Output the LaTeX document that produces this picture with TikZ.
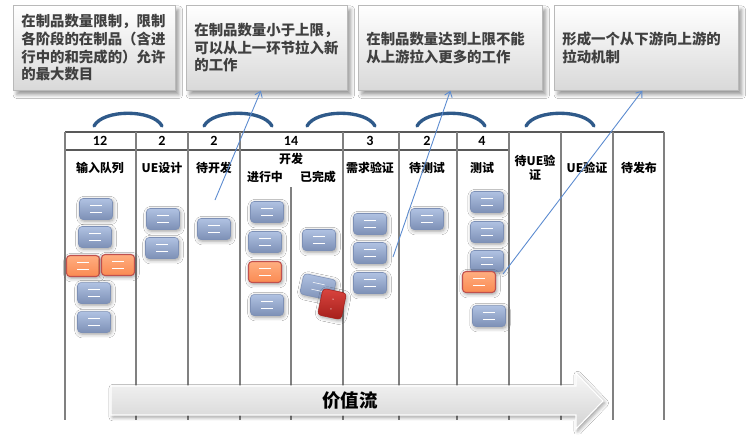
\documentclass[tikz,border=0pt]{standalone}
\usepackage{fontspec}
\setmainfont{Noto Sans CJK SC}
\newfontfamily\numfont{Carlito}
\usetikzlibrary{arrows.meta, positioning, shadows.blur, calc}
\definecolor{cardtop}{HTML}{B0C2E2}
\definecolor{cardbot}{HTML}{7D90B6}
\definecolor{hottop}{HTML}{FFAE80}
\definecolor{hotbot}{HTML}{FA8A52}
\definecolor{hotline}{HTML}{C0504D}
\definecolor{blocktop}{HTML}{D9453F}
\definecolor{blockbot}{HTML}{A51E1A}
\definecolor{arcblue}{HTML}{2F5A8A}
\definecolor{pullblue}{HTML}{5B8BD0}
\definecolor{gridline}{HTML}{808080}
\definecolor{headline}{HTML}{595959}
\definecolor{notetext}{HTML}{404040}
\tikzset{
  cardbase/.style={
    rectangle, rounded corners=2pt, inner sep=0pt,
    minimum width=0.66cm, minimum height=0.42cm,
    line width=0.3pt,
    blur shadow={shadow xshift=0.6pt, shadow yshift=-0.9pt, shadow blur steps=4}
  },
  card/.style={
    cardbase, top color=#1top, bottom color=#1bot, draw=#1bot,
    path picture={
      \draw[white, line width=0.3pt]
        ([shift={(-0.12cm,0.07cm)}]path picture bounding box.center) -- ++(0.24cm,0)
        ([shift={(-0.12cm,-0.07cm)}]path picture bounding box.center) -- ++(0.24cm,0);
    }
  },
  card/.default=card,
  hotcard/.style={card=hot, draw=hotline, line width=0.6pt},
  blockcard/.style={
    cardbase, minimum width=0.48cm, minimum height=0.54cm,
    top color=blocktop, bottom color=blockbot, draw=blockbot,
    path picture={
      \fill[white] ([yshift=0.1cm]path picture bounding box.center) circle (0.35pt)
                   ([yshift=-0.1cm]path picture bounding box.center) circle (0.35pt);
    }
  },
  notebox/.style={
    rectangle, anchor=north west, minimum height=1.7cm,
    inner xsep=0.16cm, align=left,
    top color=white, bottom color=gray!30, draw=gray!55, line width=0.4pt,
    font=\fontsize{8.2}{10}\selectfont\bfseries, text=notetext,
    blur shadow={shadow xshift=2pt, shadow yshift=-2.5pt}
  },
  wiplabel/.style={font=\numfont\fontsize{8}{9}\selectfont\bfseries, inner sep=0pt},
  colname/.style={font=\fontsize{6.8}{8.2}\selectfont\bfseries, align=center, inner sep=0pt},
  pullarc/.style={arcblue, line width=1.9pt, line cap=round},
  pullline/.style={pullblue, line width=0.5pt, -{Straight Barb[length=3pt, width=4.5pt]}},
  flowarrow/.style={
    top color=gray!6, bottom color=gray!35, draw=white, line width=0.6pt,
    blur shadow={shadow xshift=1pt, shadow yshift=-1.2pt}
  },
}

\begin{document}
\begin{tikzpicture}[x=0.02cm, y=-0.02cm]
  \fill[white] (0,0) rectangle (750,434);
  \useasboundingbox (0,0) rectangle (750,434);

  % notes on top
  \node[notebox, text width=2.92cm] (note1) at (13,5)
    {在制品数量限制，限制\\各阶段的在制品（含进\\行中的和完成的）允许\\的最大数目};
  \node[notebox, text width=2.9cm] (note2) at (186,5)
    {在制品数量小于上限，\\可以从上一环节拉入新\\的工作};
  \node[notebox, text width=3.36cm] (note3) at (358,5)
    {在制品数量达到上限不能\\从上游拉入更多的工作};
  \node[notebox, text width=3.36cm] (note4) at (554,5)
    {形成一个从下游向上游的\\拉动机制};

  % board grid
  \draw[headline, line width=0.7pt] (65,132) -- (664,132);
  \draw[headline, line width=0.7pt] (65,150) -- (509,150);
  \foreach \x in {65,136,188,240,343,399,457,509,561,613,664}
    \draw[gridline, line width=0.8pt] (\x,132) -- (\x,420);
  \draw[gridline, line width=0.8pt] (291,187) -- (291,420);

  % wip limits
  \foreach \x/\n in {100/12, 162/2, 214/2, 291/14, 370/3, 427/2, 482/4}
    \node[wiplabel] (wip\x) at (\x,141) {\n};

  % column names
  \node[colname] (queue)    at (100,168) {输入队列};
  \node[colname] (uedesign) at (162,168) {UE设计};
  \node[colname] (readydev) at (214,168) {待开发};
  \node[colname] (dev)      at (291,159) {开发};
  \node[colname] (doing)    at (265,177) {进行中};
  \node[colname] (done)     at (318,177) {已完成};
  \node[colname] (reqcheck) at (370,168) {需求验证};
  \node[colname] (readytst) at (427,168) {待测试};
  \node[colname] (testing)  at (482,168) {测试};
  \node[colname] (readyue)  at (535,168) {待UE验\\证};
  \node[colname] (uecheck)  at (587,168) {UE验证};
  \node[colname] (release)  at (639,168) {待发布};

  % cards
  \foreach \x/\y [count=\i] in {96/209, 95/237, 94/293, 94/322, 163/219, 162/248,
      214/229, 267/212, 265/242, 267/305, 319/240, 370/224, 370/253, 370/283,
      427/219, 487/202, 487/232, 487/261, 489/316}
    \node[card] (card\i) at (\x,\y) {};
  \foreach \x/\y [count=\i] in {83/266, 118/265, 265/272, 479/282}
    \node[hotcard] (hot\i) at (\x,\y) {};
  \node[card, rotate=-12] (tilted) at (318,287) {};
  \node[blockcard, rotate=-12] (blocked) at (332,304) {};

  % value stream
  \path[flowarrow] (111,386) -- (576,386) -- (576,373) -- (603,401)
    -- (576,429) -- (576,415) -- (111,415) -- cycle;
  \node[font=\fontsize{10.5}{12}\selectfont\bfseries, inner sep=0pt] (flowlabel)
    at (350,401) {价值流};

  % pull arcs
  \foreach \c in {128,238,341,451,560}
    \draw[pullarc] ({\c-34},126) .. controls ({\c-25},109) and ({\c+25},109) .. ({\c+34},126);

  % pointers to notes
  \coordinate (pull1) at (215,200);
  \coordinate (pull2) at (393,257);
  \coordinate (pull3) at (503,274);
  \draw[pullline] (pull1) -- ([xshift=-0.12cm]note2.south);
  \draw[pullline] (pull2) -- (note3.south);
  \draw[pullline] (pull3) -- ([xshift=-0.08cm]note4.south);
\end{tikzpicture}
\end{document}
